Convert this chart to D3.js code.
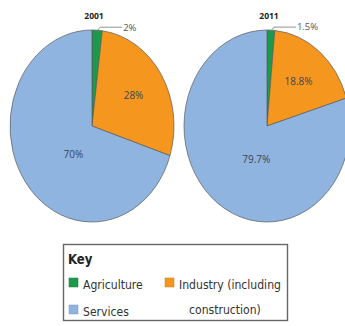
<!DOCTYPE html>
<meta charset="utf-8">
<style>
body { margin: 0; background: #fff; }
text { font-family: "Open Sans", sans-serif; }
.slice { stroke: #5a5a5a; stroke-width: 0.7px; vector-effect: non-scaling-stroke; }
.title { font-weight: bold; font-size: 8.5px; fill: #222; }
.pct { font-size: 10px; fill: #3a4658; }
.call { font-size: 9.5px; fill: #555; }
.leader { fill: none; stroke: #777; stroke-width: 0.8px; }
.legend text { font-family: "DejaVu Sans Condensed", "Open Sans", sans-serif; font-stretch: condensed; font-size: 13px; fill: #333; }
</style>
<svg width="345" height="326"></svg>
<script src="https://d3js.org/d3.v7.min.js"></script>
<script>

var years = ["2001", "2011"];
var categories = ["Agriculture", "Industry", "Services"];
var shares2001 = [2, 28, 70];
var shares2011 = [1.5, 18.8, 79.7];
var shareLabels2001 = ["2%", "28%", "70%"];
var shareLabels2011 = ["1.5%", "18.8%", "79.7%"];
var legendLabels = [["Agriculture"], ["Industry (including", "construction)"], ["Services"]];

var svg = d3.select("svg");

var color = d3.scaleOrdinal()
    .domain(categories)
    .range(["#1c9a4c", "#f5961f", "#8fb4e0"]);

var pie = d3.pie().sort(null).value(function(d) { return d.value; });

var r = 100;
var arc = d3.arc().innerRadius(0).outerRadius(r);

var charts = [
  {year: years[0], values: shares2001, labels: shareLabels2001, cx: 92, rx: 82},
  {year: years[1], values: shares2011, labels: shareLabels2011, cx: 267, rx: 83}
];
var cy = 126, ry = 96;

charts.forEach(function(c) {
  var sx = c.rx / r, sy = ry / r;
  var data = pie(categories.map(function(k, i) { return {key: k, value: c.values[i], label: c.labels[i]}; }));

  var g = svg.append("g").attr("transform", "translate(" + c.cx + "," + cy + ")");

  g.append("g")
      .attr("transform", "scale(" + sx + "," + sy + ")")
    .selectAll("path")
    .data(data)
    .enter().append("path")
      .attr("class", "slice")
      .attr("d", arc)
      .attr("fill", function(d) { return color(d.data.key); });

  svg.append("text")
      .attr("class", "title")
      .attr("x", c.cx + 2)
      .attr("y", 19)
      .attr("text-anchor", "middle")
      .text(c.year);

  // inner labels
  data.forEach(function(d) {
    if (d.data.key === "Agriculture") return;
    var mid = (d.startAngle + d.endAngle) / 2, f = 0.6;
    if (d.data.key === "Services") { mid -= 0.28; f = 0.37; }
    var x = Math.sin(mid) * f * c.rx, y = -Math.cos(mid) * f * ry;
    g.append("text")
        .attr("class", "pct")
        .attr("x", x)
        .attr("y", y)
        .attr("dy", "0.35em")
        .attr("text-anchor", "middle")
        .text(d.data.label);
  });

  // callout for the small slice
  var a = data[0];
  var m = (a.startAngle + a.endAngle) / 2;
  var x0 = Math.sin(m) * c.rx, y0 = -Math.cos(m) * ry;
  g.append("path")
      .attr("class", "leader")
      .attr("d", "M" + x0 + "," + (y0 + 1) + "L" + (x0 + 3) + "," + (y0 - 3) + "H" + (x0 + 25));
  g.append("text")
      .attr("class", "call")
      .attr("x", x0 + 26)
      .attr("y", y0 - 3)
      .attr("dy", "0.35em")
      .text(a.data.label);
});

// key
var legend = svg.append("g").attr("class", "legend");
legend.append("rect")
    .attr("x", 63.5).attr("y", 244.5)
    .attr("width", 224).attr("height", 76)
    .attr("fill", "#fff").attr("stroke", "#666").attr("stroke-width", 1.4);
legend.append("text")
    .attr("transform", "translate(68,264) scale(0.93,1)")
    .style("font-weight", "bold").style("font-size", "14px").style("fill", "#222")
    .text("Key");

var itemPos = [[69, 278], [165, 278], [69, 305]];
categories.forEach(function(k, i) {
  var p = itemPos[i];
  legend.append("rect")
      .attr("x", p[0]).attr("y", p[1])
      .attr("width", 9).attr("height", 9)
      .attr("fill", color(k))
      .attr("stroke", d3.color(color(k)).darker(0.5)).attr("stroke-width", 0.5);
  legendLabels[i].forEach(function(line, j) {
    var tx = p[0] + 14 + (j ? 10 : 0), ty = p[1] + 11 + j * 25;
    legend.append("text")
        .attr("transform", "translate(" + tx + "," + ty + ") scale(0.93,1)")
        .text(line);
  });
});

</script>
